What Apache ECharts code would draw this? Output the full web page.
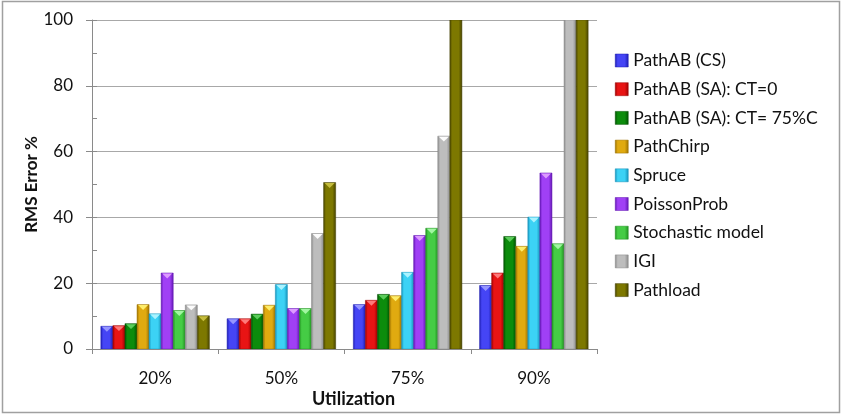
<!DOCTYPE html>
<html>
<head>
<meta charset="utf-8">
<script src="https://cdn.jsdelivr.net/npm/echarts@6/dist/echarts.min.js"></script>
<style>
html,body{margin:0;padding:0;background:#fff;}
#c{width:842px;height:416px;}
</style>
</head>
<body>
<div id="c"></div>
<script>
const categories = ['20%', '50%', '75%', '90%'];
const seriesNames = ['PathAB (CS)', 'PathAB (SA): CT=0', 'PathAB (SA): CT= 75%C', 'PathChirp', 'Spruce', 'PoissonProb', 'Stochastic model', 'IGI', 'Pathload'];
const pathabCS   = [6.9, 9.2, 13.5, 19.3];
const pathabSA0  = [7.1, 9.2, 14.8, 23.1];
const pathabSA75 = [7.7, 10.6, 16.6, 34.2];
const pathChirp  = [13.5, 13.3, 16.2, 31.2];
const spruce     = [10.7, 19.6, 23.3, 40.1];
const poisson    = [23.1, 12.3, 34.5, 53.5];
const stochastic = [11.7, 12.3, 36.7, 32.0];
const igi        = [13.4, 35.1, 64.7, 100];
const pathload   = [10.1, 50.6, 100, 100];
const yTicks = [0, 20, 40, 60, 80, 100];
const Y_MAX = 100;

const seriesData = [pathabCS, pathabSA0, pathabSA75, pathChirp, spruce, poisson, stochastic, igi, pathload];
// [edge, body, highlight]
const palette = [
  ['#1c1cb0', '#4545f5', '#9a9aff'],
  ['#9a0000', '#e81414', '#ff8080'],
  ['#005000', '#0c8c0c', '#60d060'],
  ['#9a7000', '#e0aa10', '#fff070'],
  ['#1590b8', '#3cd2f5', '#b0f4ff'],
  ['#6015b0', '#a040f5', '#e0a0ff'],
  ['#1f8f1f', '#45cc45', '#a8f8a8'],
  ['#888888', '#bdbdbd', '#ffffff'],
  ['#454100', '#7d7800', '#c8c040']
];
const CAT_GAP = 0.14;
const NS = seriesNames.length;

function grad(c) {
  return new echarts.graphic.LinearGradient(0, 0, 1, 0, [
    {offset: 0, color: c[0]},
    {offset: 0.2, color: c[1]},
    {offset: 0.72, color: c[1]},
    {offset: 1, color: c[0]}
  ]);
}

function makeRender(i) {
  return function (params, api) {
    const cat = api.value(0);
    const val = api.value(1);
    const top = api.coord([cat, val]);
    const base = api.coord([cat, 0]);
    const band = api.size([1, 0])[0];
    const groupW = band * (1 - CAT_GAP);
    const w = groupW / NS;
    const x = top[0] - groupW / 2 + i * w;
    const c = palette[i];
    const children = [{
      type: 'rect',
      shape: {x: x, y: top[1], width: w, height: base[1] - top[1]},
      style: {fill: grad(c), stroke: c[0], lineWidth: 0.5}
    }];
    if (val < Y_MAX) {
      const th = Math.min(w * 0.45, base[1] - top[1]);
      children.push({
        type: 'polygon',
        shape: {points: [[x + 1, top[1] + 0.5], [x + w - 1, top[1] + 0.5], [x + w / 2, top[1] + th]]},
        style: {fill: c[2], opacity: 0.95}
      });
    }
    return {type: 'group', children: children};
  };
}

const chart = echarts.init(document.getElementById('c'), null, {renderer: 'canvas'});
const FONT = 'Lato, "Open Sans", sans-serif';
const series = seriesNames.map((n, i) => ({
  name: n,
  type: 'custom',
  renderItem: makeRender(i),
  encode: {x: 0, y: 1},
  data: seriesData[i].map((v, k) => [k, v]),
  clip: true,
  itemStyle: {color: palette[i][1]},
  emphasis: {disabled: true},
  animation: false
}));

chart.setOption({
  animation: false,
  graphic: [{
    type: 'rect', shape: {x: 2.5, y: 1.5, width: 837, height: 411},
    style: {fill: 'none', stroke: '#a0a0a0', lineWidth: 1.5}, silent: true, z: -1
  }],
  grid: {left: 92, right: 245, top: 20, bottom: 67, containLabel: false},
  legend: {
    orient: 'vertical', left: 615, top: 51.5, padding: 0,
    itemWidth: 13, itemHeight: 13, itemGap: 10.7,
    icon: 'rect',
    textStyle: {fontFamily: FONT, fontSize: 17.5, color: '#111', lineHeight: 17, padding: [0, 0, 0, 0]},
    data: seriesNames.map((n, i) => ({name: n, itemStyle: {color: grad(palette[i]), borderColor: palette[i][0], borderWidth: 0.5}}))
  },
  xAxis: {
    type: 'category', data: categories,
    name: 'Utilization', nameLocation: 'middle', nameGap: 41, nameMoveOverlap: false,
    nameTextStyle: {fontFamily: FONT, fontSize: 18, fontWeight: 'bold', color: '#111', padding: [0, 0, 0, 18]},
    axisLine: {lineStyle: {color: '#8a8a8a'}},
    axisTick: {show: true, length: 5, lineStyle: {color: '#8a8a8a'}},
    axisLabel: {fontFamily: FONT, fontSize: 17, color: '#111', margin: 21}
  },
  yAxis: [{
    type: 'value', min: 0, max: Y_MAX, interval: 20,
    name: 'RMS Error %', nameLocation: 'middle', nameGap: 52, nameMoveOverlap: false,
    nameTextStyle: {fontFamily: FONT, fontSize: 17, fontWeight: 'bold', color: '#111'},
    axisLine: {show: true, lineStyle: {color: '#8a8a8a'}},
    axisTick: {show: true, length: 6, lineStyle: {color: '#8a8a8a'}},
    axisLabel: {fontFamily: FONT, fontSize: 17, color: '#111', margin: 19,
      formatter: v => yTicks.indexOf(v) >= 0 ? String(v) : ''},
    splitLine: {show: true, lineStyle: {color: '#a8a8a8', width: 1.2}}
  }, {
    type: 'value', min: 0, max: Y_MAX, interval: 10, position: 'left',
    axisLine: {show: false},
    axisTick: {show: true, inside: true, length: 5, lineStyle: {color: '#8a8a8a'}},
    axisLabel: {show: false},
    splitLine: {show: false}
  }],
  series: series
});
</script>
</body>
</html>
